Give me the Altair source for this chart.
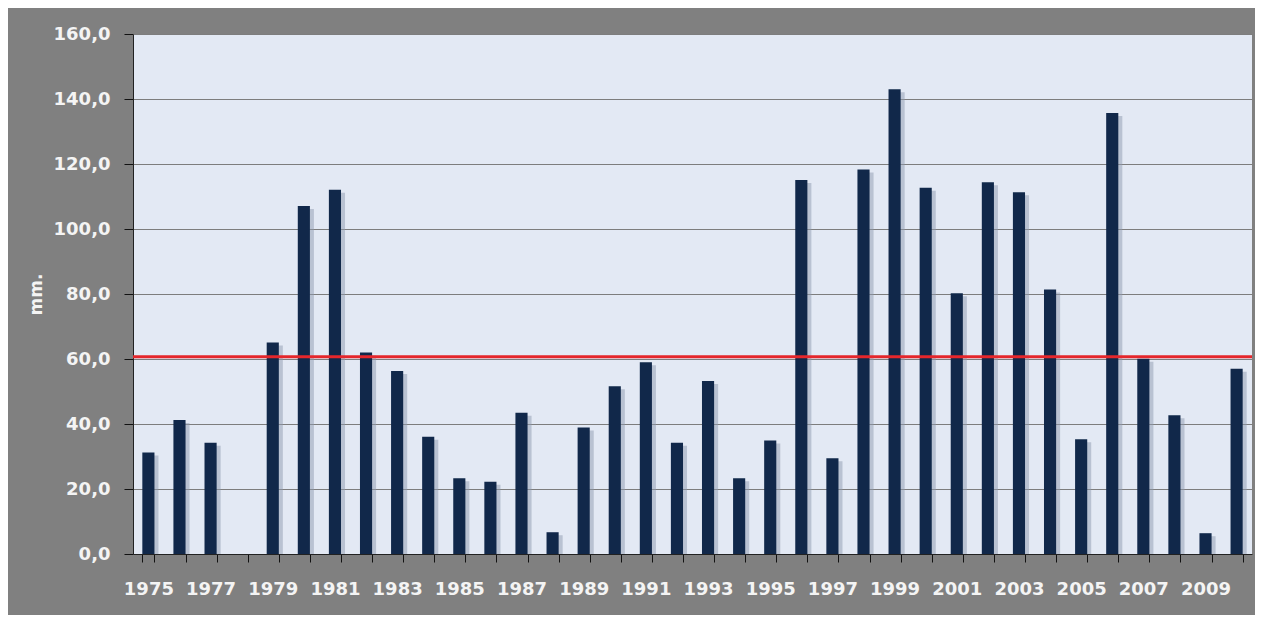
import altair as alt
import pandas as pd

years = [str(y) for y in range(1975, 2011)]
values = [31.2, 41.2, 34.2, None, 65.1, 107.1, 112.1, 62.0, 56.3, 36.1,
          23.3, 22.2, 43.5, 6.7, 38.9, 51.6, 59.0, 34.2, 53.2, 23.3,
          34.9, 115.1, 29.5, 118.3, 143.0, 112.7, 80.2, 114.4, 111.3, 81.4,
          35.3, 135.7, 60.1, 42.7, 6.4, 57.0]
mean_value = [60.7]

df = pd.DataFrame({"year": years, "mm": values})
mean_df = pd.DataFrame({"mean": mean_value})

FONT = "DejaVu Sans"

x_enc = alt.X(
    "year:O",
    scale=alt.Scale(domain=years, paddingInner=0.61, paddingOuter=0.3),
    axis=alt.Axis(
        title=None,
        labelAngle=0,
        labelExpr="toNumber(datum.value) % 2 == 1 ? datum.label : ''",
        tickBand="extent",
        tickSize=8,
        tickColor="#111111",
        domainColor="#222222",
        labelPadding=18,
        labelFont=FONT,
        labelFontSize=18,
        labelFontWeight="bold",
        labelColor="#f4f4f4",
        grid=False,
    ),
)
y_enc = alt.Y(
    "mm:Q",
    scale=alt.Scale(domain=[0, 160], nice=False),
    axis=alt.Axis(
        title="mm.",
        values=[0, 20, 40, 60, 80, 100, 120, 140, 160],
        labelExpr="replace(format(datum.value, '.1f'), '.', ',')",
        tickSize=9,
        tickColor="#111111",
        domainColor="#222222",
        labelPadding=14,
        labelFont=FONT,
        labelFontSize=18,
        labelFontWeight="bold",
        labelColor="#f4f4f4",
        titleFont=FONT,
        titleFontSize=17,
        titleFontWeight="bold",
        titleColor="#f4f4f4",
        titleAngle=-90,
        titleBaseline="middle",
        titleX=-97,
        titleY=260,
        gridColor="#7d7d7d",
        gridWidth=1,
    ),
)

shadow = alt.Chart(df).mark_bar(
    color="#8f9bb0", opacity=0.5, xOffset=4, yOffset=3, clip=True
).encode(x=x_enc, y=y_enc)

bars = alt.Chart(df).mark_bar(color="#11284a").encode(x=x_enc, y=y_enc)

mean_line = alt.Chart(mean_df).mark_rule(color="#e5262b", strokeWidth=3).encode(
    y=alt.Y("mean:Q")
)

chart = (
    alt.layer(shadow, bars, mean_line)
    .properties(
        width=1119,
        height=520,
        background="#808080",
        padding={"left": 125, "top": 26, "right": 3, "bottom": 61},
        autosize=alt.AutoSizeParams(type="none"),
    )
    .configure_view(fill="#e3e9f4", stroke=None)
)

chart.save("out.html", embed_options={"renderer": "svg", "actions": False})
